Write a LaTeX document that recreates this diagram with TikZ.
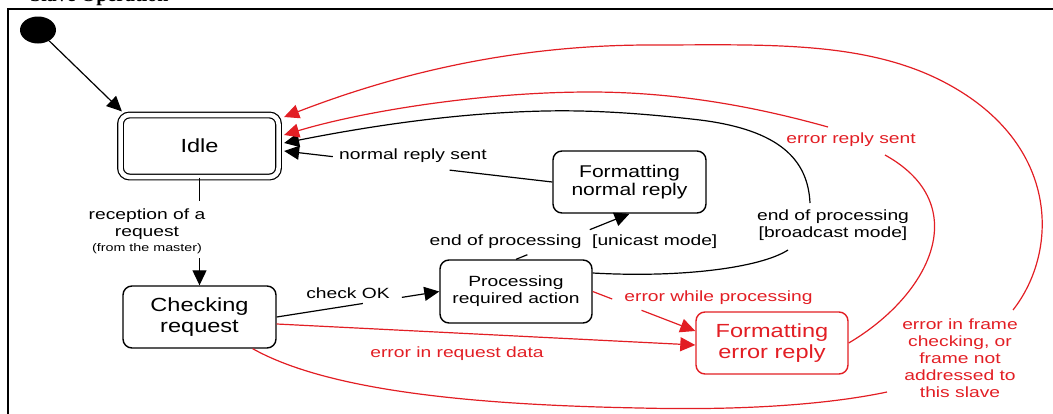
\documentclass[tikz,border=0pt]{standalone}
\usepackage{fontspec}
\setmainfont{Liberation Sans}
\newfontfamily\labfont{Liberation Sans}[FakeStretch=1.3]
\newfontfamily\bgfont{Liberation Sans}[FakeStretch=1.24]
\newfontfamily\ttlfont{Liberation Serif}
\usetikzlibrary{arrows.meta,calc,shapes.geometric}
\definecolor{ered}{RGB}{226,30,36}
\newcommand\lbtxt{\labfont\fontsize{14.8}{17}\selectfont}
\newcommand\smtxt{\labfont\fontsize{11}{13}\selectfont}
\newcommand\bgtxt{\bgfont\fontsize{19}{20.5}\selectfont}
\newcommand\mdtxt{\bgfont\fontsize{17}{18}\selectfont}
\begin{document}
\begin{tikzpicture}[x=1pt,y=-1pt,
  lab/.style={font=\lbtxt, inner sep=0pt, align=center},
  state/.style={draw, rounded corners=9pt, line width=1.4pt, inner sep=0pt, align=center},
  conn/.style={line width=1.2pt},
  arr/.style={conn, -{Triangle[length=15pt,width=14pt]}}]
\useasboundingbox (0,0) rectangle (1053,413);
\draw[line width=2.2pt] (8,420) -- (8,9) -- (1060,9);
\node[anchor=base west, inner sep=0pt, font=\ttlfont\fontsize{20}{20}\selectfont\bfseries] (title) at (30,1.2) {Slave Operation};

\node[shape=ellipse, fill=black, minimum width=36pt, minimum height=27pt, inner sep=0pt] (init) at (38,30) {};

\node[state, double, double distance=4.5pt, line width=1.2pt, minimum width=158pt, minimum height=62pt, font=\bgtxt] (idle) at (199.5,146) {Idle};
\node[state, minimum width=153pt, minimum height=62pt, font=\bgtxt] (check) at (199.5,317) {Checking\\request};
\node[state, minimum width=152pt, minimum height=63pt, font=\lbtxt] (proc) at (516,291.5) {Processing\\required action};
\node[state, minimum width=153pt, minimum height=62pt, font=\mdtxt] (fnr) at (629.5,182) {Formatting\\normal reply};
\node[state, draw=ered, text=ered, minimum width=152pt, minimum height=62pt, font=\bgtxt] (efr) at (772,343) {Formatting\\error reply};

\coordinate (i0) at ([xshift=2pt,yshift=3pt]idle.north west);
\coordinate (i1) at ([xshift=5pt,yshift=29pt]idle.east);
\coordinate (i2) at ([xshift=5pt,yshift=11pt]idle.east);
\coordinate (i3) at ([xshift=5pt,yshift=3pt]idle.east);
\coordinate (i4) at ([xshift=5pt,yshift=-5pt]idle.east);

\draw[arr] (init) -- (i0);

\draw[conn] (idle.south) -- ($(idle.south)!0.22!(check.north)$);
\draw[arr] ($(idle.south)!0.75!(check.north)$) -- (check.north);
\node[lab] (lrec) at (147,231) {reception of a\\request\\[-2pt]{\smtxt(from the master)}};

\draw[conn] (check.east) -- ($(check.east)!0.53!(proc.west)$);
\draw[arr] ($(check.east)!0.77!(proc.west)$) -- (proc.west);
\node[lab, anchor=base] (lok) at (348,298) {check OK};

\draw[conn] (proc.north) -- ($(proc.north)!0.1!(fnr.south)$);
\draw[arr] ($(proc.north)!0.65!(fnr.south)$) -- (fnr.south);
\node[lab, anchor=base] (luni) at (573.5,245) {end of processing\ \ [unicast mode]};

\draw[conn] (fnr.west) -- ($(fnr.west)!0.383!(i4)$);
\draw[arr] ($(fnr.west)!0.818!(i4)$) -- (i4);
\node[lab, anchor=base] (lnrs) at (413,159) {normal reply sent};

\coordinate (pb) at ([yshift=18.5pt]proc.east);
\coordinate (b1) at (788,250);
\coordinate (b2) at (810,203);
\draw[conn] (pb) .. controls (680,278) and (760,268) .. (b1);
\draw[arr] (b2) .. controls (808,160) and (780,130) .. (700,120) .. controls (640,113) and (590,110) .. (545,111) .. controls (450,113) and (360,128) .. (i3);
\node[lab] (lbro) at (833,225) {end of processing\\{[}broadcast mode{]}};

\coordinate (e1) at (885,155);
\coordinate (e2) at (828,127);
\draw[conn, ered] (efr.east) .. controls (930,295) and (975,205) .. (e1);
\draw[arr, ered] (e2) .. controls (760,108) and (680,92) .. (590,92) .. controls (480,92) and (360,112) .. (i2);
\node[lab, text=ered, anchor=base] (lers) at (851,143) {error reply sent};

\coordinate (cs) at ([xshift=-24pt]check.south east);
\coordinate (o1) at (887,392);
\coordinate (o2) at (1013,310);
\draw[conn, ered] (cs) .. controls (330,392) and (480,405) .. (640,408) .. controls (760,411) and (840,402) .. (o1);
\draw[arr, ered] (o2) .. controls (1060,250) and (1060,140) .. (940,80) .. controls (860,40) and (760,45) .. (650,45) .. controls (500,45) and (380,80) .. (i1);
\node[lab, text=ered] (lfr) at (960,358.5) {error in frame\\checking, or\\frame not\\addressed to\\this slave};

\coordinate (ew) at ([yshift=12pt]efr.west);
\draw[arr, ered] ([yshift=-7pt]check.east) -- ([yshift=-2pt]efr.west);
\node[lab, text=ered, anchor=base] (lreq) at (457,357) {error in request data};

\draw[conn, ered] (proc.east) -- ($(proc.east)!0.19!(ew)$);
\draw[arr, ered] ($(proc.east)!0.476!(ew)$) -- (ew);
\node[lab, text=ered, anchor=base] (lwp) at (718.5,301) {error while processing};
\end{tikzpicture}
\end{document}
